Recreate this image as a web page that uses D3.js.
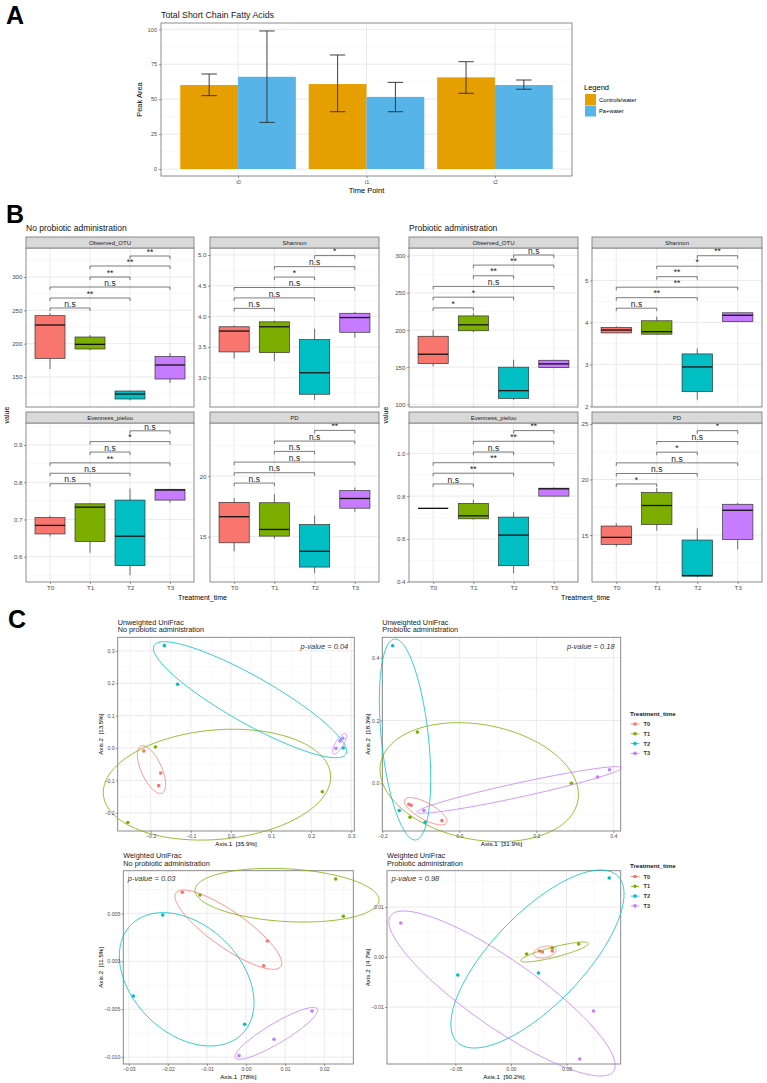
<!DOCTYPE html>
<html><head><meta charset="utf-8">
<script src="https://cdn.jsdelivr.net/npm/d3@7"></script>
<style>
html,body{margin:0;padding:0;background:#fff;}
svg{display:block;}
text{font-family:"Liberation Sans",Arial,Helvetica,sans-serif;}
</style></head>
<body><svg id="fig" width="767" height="1083"></svg>
<script>
// ================= DATA =================
// ---- Panel A: Total Short Chain Fatty Acids ----
const scfaTimes = ["t0","t1","t2"];
const scfaGroups = ["Controls/water","Pa+water"];
const scfaColors = ["#E69F00","#56B4E9"];
const scfaControls = [60.1, 60.8, 65.6];
const scfaPa = [66.0, 51.6, 60.1];
const scfaControlsLow = [52.5, 41.0, 54.2];
const scfaControlsHigh = [68.0, 81.6, 76.8];
const scfaPaLow = [33.4, 41.0, 57.1];
const scfaPaHigh = [98.8, 62.0, 63.7];
const scfaTicks = [0, 25, 50, 75, 100];

// ---- Panel B: alpha diversity boxplots [lower whisker, q1, median, q3, upper whisker] ----
const treatments = ["T0","T1","T2","T3"];
const treatColors = ["#F8766D","#7CAE00","#00BFC4","#C77CFF"];
const sigPairs = [[0,1],[0,2],[0,3],[1,2],[1,3],[2,3]];

const noProbOTU = [[162,178,228,242,246],[190,192,199,210,213],[115,117,124.5,129,130],[141,147,168,181,186]];
const noProbOTUSig = ["n.s","**","n.s","**","**","**"];
const noProbOTUSigY = [253.5,268.5,285,300,316.5,331.5];
const noProbOTUTicks = [150,200,250,300];

const noProbShannon = [[3.31,3.42,3.76,3.83,3.85],[3.27,3.41,3.83,3.91,3.93],[2.64,2.73,3.08,3.62,3.80],[3.65,3.74,3.98,4.05,4.07]];
const noProbShannonSig = ["n.s","n.s","n.s","*","n.s","*"];
const noProbShannonSigY = [4.13,4.30,4.47,4.64,4.81,4.99];
const noProbShannonTicks = [3.0,3.5,4.0,4.5,5.0];

const noProbEvenness = [[0.654,0.661,0.684,0.705,0.710],[0.611,0.641,0.733,0.742,0.744],[0.550,0.576,0.655,0.752,0.783],[0.745,0.752,0.779,0.781,0.782]];
const noProbEvennessSig = ["n.s","n.s","**","n.s","*","n.s"];
const noProbEvennessSigY = [0.796,0.824,0.852,0.881,0.909,0.938];
const noProbEvennessTicks = [0.6,0.7,0.8,0.9];

const noProbPD = [[13.8,14.5,16.65,17.83,18.2],[14.85,15.05,15.6,17.8,18.5],[12.0,12.5,13.8,16.0,16.75],[17.06,17.35,18.15,18.8,19.05]];
const noProbPDSig = ["n.s","n.s","n.s","n.s","n.s","**"];
const noProbPDSigY = [19.42,20.27,21.15,22.03,22.88,23.76];
const noProbPDTicks = [15,20];

const probOTU = [[151,154.9,167.4,191.6,200],[197,199,207,219,222.6],[105.8,108,118.4,150,160],[148.5,149.4,154.4,159.3,160]];
const probOTUSig = ["*","*","n.s","**","**","n.s"];
const probOTUSigY = [229.8,244.2,258.7,273,287.4,301];
const probOTUTicks = [100,150,200,250,300];

const probShannon = [[3.75,3.75,3.82,3.88,3.91],[3.71,3.72,3.78,4.04,4.14],[2.16,2.35,2.94,3.25,3.38],[4.01,4.02,4.17,4.23,4.24]];
const probShannonSig = ["n.s","**","**","**","*","**"];
const probShannonSigY = [4.34,4.59,4.84,5.09,5.34,5.59];
const probShannonTicks = [2,3,4,5];

const probEvenness = [[0.743,0.743,0.743,0.743,0.743],[0.690,0.694,0.708,0.766,0.783],[0.44,0.475,0.618,0.702,0.725],[0.800,0.800,0.834,0.837,0.840]];
const probEvennessSig = ["n.s","**","**","n.s","**","**"];
const probEvennessSigY = [0.857,0.907,0.956,1.006,1.056,1.106];
const probEvennessTicks = [0.4,0.6,0.8,1.0];

const probPD = [[13.95,14.16,14.79,15.81,16.05],[15.4,15.95,17.66,18.83,19.24],[11.2,11.3,11.35,14.55,15.6],[13.7,14.6,17.23,17.77,17.9]];
const probPDSig = ["*","n.s","n.s","*","n.s","*"];
const probPDSigY = [19.6,20.54,21.5,22.46,23.42,24.4];
const probPDTicks = [15,20,25];

// ---- Panel C: PCoA ordinations ----
const uwNoProbPoints = [
  {t:"T0",x:-0.217,y:-0.009},{t:"T0",x:-0.175,y:-0.077},{t:"T0",x:-0.180,y:-0.116},
  {t:"T1",x:-0.188,y:0.003},{t:"T1",x:0.228,y:-0.135},{t:"T1",x:-0.257,y:-0.230},
  {t:"T2",x:-0.166,y:0.316},{t:"T2",x:-0.133,y:0.197},{t:"T2",x:0.280,y:0.000},
  {t:"T3",x:0.262,y:-0.001},{t:"T3",x:0.272,y:0.022},{t:"T3",x:0.279,y:0.030}];
const uwNoProbEllipses = [
  {t:"T0",cx:-0.198,cy:-0.0664,hx:0.0353,hy:0.0736,rho:-0.62},
  {t:"T1",cx:-0.0347,cy:-0.113,hx:0.2835,hy:0.171,rho:0.14},
  {t:"T2",cx:0.0476,cy:0.149,hx:0.241,hy:0.179,rho:-0.888},
  {t:"T3",cx:0.271,cy:0.0133,hx:0.0175,hy:0.0319,rho:0.76}];
const uwNoProbXTicks = [-0.2,-0.1,0.0,0.1,0.2,0.3];
const uwNoProbYTicks = [-0.2,-0.1,0.0,0.1,0.2,0.3];

const uwProbPoints = [
  {t:"T0",x:-0.131,y:-0.067},{t:"T0",x:-0.125,y:-0.070},{t:"T0",x:-0.045,y:-0.119},
  {t:"T1",x:-0.109,y:0.163},{t:"T1",x:0.291,y:0.0},{t:"T1",x:-0.128,y:-0.108},
  {t:"T2",x:-0.173,y:0.438},{t:"T2",x:-0.156,y:-0.087},{t:"T2",x:-0.089,y:-0.124},
  {t:"T3",x:-0.092,y:-0.087},{t:"T3",x:0.359,y:0.020},{t:"T3",x:0.390,y:0.043}];
const uwProbEllipses = [
  {t:"T0",cx:-0.0873,cy:-0.089,hx:0.0554,hy:0.0435,rho:-0.73},
  {t:"T1",cx:0.0516,cy:0.0035,hx:0.2576,hy:0.1895,rho:-0.21},
  {t:"T2",cx:-0.141,cy:0.1395,hx:0.0667,hy:0.32,rho:-0.39},
  {t:"T3",cx:0.1555,cy:-0.0213,hx:0.266,hy:0.0743,rho:0.95}];
const uwProbXTicks = [-0.2,0.0,0.2,0.4];
const uwProbYTicks = [0.0,0.2,0.4];

const wNoProbPoints = [
  {t:"T0",x:-0.01628,y:0.0072},{t:"T0",x:0.00546,y:0.00212},{t:"T0",x:0.00452,y:-0.00046},
  {t:"T1",x:0.02294,y:0.00859},{t:"T1",x:0.02489,y:0.0047},{t:"T1",x:-0.01176,y:0.00692},
  {t:"T2",x:-0.0213,y:0.00483},{t:"T2",x:-0.02882,y:-0.00362},{t:"T2",x:-0.00034,y:-0.00658},
  {t:"T3",x:0.01688,y:-0.00519},{t:"T3",x:0.00716,y:-0.00814},{t:"T3",x:-0.00179,y:-0.00985}];
const wNoProbEllipses = [
  {t:"T0",cx:-0.00452,cy:0.0033,hx:0.01364,hy:0.00414,rho:-0.84},
  {t:"T1",cx:0.01049,cy:0.0069,hx:0.02353,hy:0.0028,rho:-0.18},
  {t:"T2",cx:-0.01517,cy:-0.00188,hx:0.01722,hy:0.00696,rho:-0.35},
  {t:"T3",cx:0.00775,cy:-0.00752,hx:0.01057,hy:0.00271,rho:0.895}];
const wNoProbXTicks = [-0.03,-0.02,-0.01,0.00,0.01,0.02];
const wNoProbYTicks = [-0.010,-0.005,0.000,0.005];

const wProbPoints = [
  {t:"T0",x:0.0257,y:0.0012},{t:"T0",x:0.0283,y:0.0010},{t:"T0",x:0.0372,y:0.0012},
  {t:"T1",x:0.0142,y:0.0006},{t:"T1",x:0.0372,y:0.0018},{t:"T1",x:0.0610,y:0.0026},
  {t:"T2",x:0.0885,y:0.0158},{t:"T2",x:-0.0478,y:-0.0036},{t:"T2",x:0.0248,y:-0.0032},
  {t:"T3",x:-0.0991,y:0.0068},{t:"T3",x:0.0743,y:-0.0108},{t:"T3",x:0.0620,y:-0.0204}];
const wProbEllipses = [
  {t:"T0",cx:0.0305,cy:0.0010,hx:0.0102,hy:0.0012,rho:0.3},
  {t:"T1",cx:0.0394,cy:0.0010,hx:0.0305,hy:0.0020,rho:0.85},
  {t:"T2",cx:0.0239,cy:-0.0004,hx:0.0779,hy:0.0178,rho:0.73},
  {t:"T3",cx:-0.0080,cy:-0.0073,hx:0.1018,hy:0.0165,rho:-0.87}];
const wProbXTicks = [-0.05,0.00,0.05];
const wProbYTicks = [-0.01,0.00,0.01];

// ================= DRAWING =================
const FONT = '"Liberation Sans",Arial,Helvetica,sans-serif';
const TXT = "#4d4d4d", GRID = "#e8e8e8", GRIDMIN = "#f4f4f4", BORDER = "#7f7f7f", TICK = "#555";
const svg = d3.select("#fig");

function text(parent, x, y, s, o = {}) {
  const t = parent.append("text").attr("x", x).attr("y", y).text(s)
    .attr("font-size", o.size || 7).attr("fill", o.fill || "#000")
    .attr("text-anchor", o.anchor || "start");
  if (o.weight) t.attr("font-weight", o.weight);
  if (o.italic) t.attr("font-style", "italic");
  if (o.rotate) t.attr("transform", `rotate(-90,${x},${y})`);
  if (o.pre) t.style("white-space", "pre");
  return t;
}
function minorsOf(ticks, dom) {
  const st = ticks[1] - ticks[0], lo = Math.min(dom[0], dom[1]), hi = Math.max(dom[0], dom[1]);
  let v = ticks[0] - st / 2; while (v - st >= lo) v -= st;
  const out = []; for (; v <= hi; v += st) if (v >= lo) out.push(v);
  return out;
}
function styleAxis(sel, fs) {
  sel.attr("font-family", FONT);
  sel.select(".domain").remove();
  sel.selectAll(".tick line").attr("stroke", TICK).attr("stroke-width", 0.6);
  sel.selectAll(".tick text").attr("fill", TXT).attr("font-size", fs);
}

// ---------- Panel labels ----------
text(svg, 6, 24, "A", {size: 25, weight: "bold"});
text(svg, 6, 223, "B", {size: 25, weight: "bold"});
text(svg, 8, 628, "C", {size: 25, weight: "bold"});

// ---------- Panel A ----------
(function () {
  const x0 = 161, x1 = 572, y0 = 23, y1 = 176;
  const g = svg.append("g");
  const xs = d3.scalePoint().domain(scfaTimes).range([x0, x1]).padding(0.6);
  const ys = d3.scaleLinear().domain([-5, 104.5]).range([y1, y0]);
  g.append("rect").attr("x", x0).attr("y", y0).attr("width", x1 - x0).attr("height", y1 - y0).attr("fill", "#fff");
  minorsOf(scfaTicks, ys.domain()).forEach(v => g.append("line").attr("x1", x0).attr("x2", x1).attr("y1", ys(v)).attr("y2", ys(v)).attr("stroke", GRIDMIN).attr("stroke-width", 0.6));
  scfaTicks.forEach(v => g.append("line").attr("x1", x0).attr("x2", x1).attr("y1", ys(v)).attr("y2", ys(v)).attr("stroke", GRID).attr("stroke-width", 0.9));
  scfaTimes.forEach(t => g.append("line").attr("x1", xs(t)).attr("x2", xs(t)).attr("y1", y0).attr("y2", y1).attr("stroke", GRID).attr("stroke-width", 0.9));
  const bw = xs.step() * 0.45;
  const series = [[scfaControls, scfaControlsLow, scfaControlsHigh], [scfaPa, scfaPaLow, scfaPaHigh]];
  series.forEach((s, k) => {
    scfaTimes.forEach((t, i) => {
      const bx = xs(t) - bw + k * bw;
      g.append("rect").attr("x", bx).attr("y", ys(s[0][i])).attr("width", bw).attr("height", ys(0) - ys(s[0][i])).attr("fill", scfaColors[k]);
    });
  });
  series.forEach((s, k) => {
    scfaTimes.forEach((t, i) => {
      const cx = xs(t) - bw / 2 + k * bw, cw = xs.step() * 0.06;
      const p = d3.path();
      p.moveTo(cx - cw, ys(s[2][i])); p.lineTo(cx + cw, ys(s[2][i]));
      p.moveTo(cx, ys(s[2][i])); p.lineTo(cx, ys(s[1][i]));
      p.moveTo(cx - cw, ys(s[1][i])); p.lineTo(cx + cw, ys(s[1][i]));
      g.append("path").attr("d", p.toString()).attr("stroke", "#2b2b2b").attr("stroke-width", 0.9).attr("fill", "none");
    });
  });
  g.append("rect").attr("x", x0).attr("y", y0).attr("width", x1 - x0).attr("height", y1 - y0).attr("fill", "none").attr("stroke", BORDER).attr("stroke-width", 0.9);
  styleAxis(g.append("g").attr("transform", `translate(${x0},0)`).call(d3.axisLeft(ys).tickValues(scfaTicks).tickSize(2).tickPadding(2)), 5.5);
  styleAxis(g.append("g").attr("transform", `translate(0,${y1})`).call(d3.axisBottom(xs).tickSize(2).tickPadding(2)), 5.5);
  text(g, x0, 18, "Total Short Chain Fatty Acids", {size: 8.8, fill: "#222"});
  text(g, (x0 + x1) / 2, 193, "Time Point", {size: 7.5, anchor: "middle"});
  text(g, 142, (y0 + y1) / 2, "Peak Area", {size: 7.5, anchor: "middle", rotate: true});
  text(g, 584, 90, "Legend", {size: 7.5});
  scfaGroups.forEach((n, k) => {
    g.append("rect").attr("x", 585).attr("y", 94 + k * 11.5).attr("width", 11).attr("height", 11).attr("fill", scfaColors[k]);
    text(g, 599, 94 + k * 11.5 + 7.5, n, {size: 5.8});
  });
})();

// ---------- Panel B ----------
const ROWS = [{s0: 237, y0: 248, y1: 407}, {s0: 412, y0: 423, y1: 582}];
function boxFacet(o) {
  const r = ROWS[o.row];
  const g = svg.append("g");
  const xs = d3.scalePoint().domain(treatments).range([o.x0, o.x1]).padding(0.6);
  const ys = d3.scaleLinear().domain(o.dom).range([r.y1, r.y0]);
  g.append("rect").attr("x", o.x0).attr("y", r.y0).attr("width", o.x1 - o.x0).attr("height", r.y1 - r.y0).attr("fill", "#fff");
  minorsOf(o.ticks, o.dom).forEach(v => g.append("line").attr("x1", o.x0).attr("x2", o.x1).attr("y1", ys(v)).attr("y2", ys(v)).attr("stroke", GRIDMIN).attr("stroke-width", 0.6));
  o.ticks.forEach(v => g.append("line").attr("x1", o.x0).attr("x2", o.x1).attr("y1", ys(v)).attr("y2", ys(v)).attr("stroke", GRID).attr("stroke-width", 0.9));
  treatments.forEach(t => g.append("line").attr("x1", xs(t)).attr("x2", xs(t)).attr("y1", r.y0).attr("y2", r.y1).attr("stroke", GRID).attr("stroke-width", 0.9));
  const bw = xs.step() * 0.75;
  o.stats.forEach((s, i) => {
    const cx = xs(treatments[i]);
    g.append("line").attr("x1", cx).attr("x2", cx).attr("y1", ys(s[0])).attr("y2", ys(s[1])).attr("stroke", "#333").attr("stroke-width", 0.7);
    g.append("line").attr("x1", cx).attr("x2", cx).attr("y1", ys(s[3])).attr("y2", ys(s[4])).attr("stroke", "#333").attr("stroke-width", 0.7);
    g.append("rect").attr("x", cx - bw / 2).attr("y", ys(s[3])).attr("width", bw).attr("height", Math.max(0, ys(s[1]) - ys(s[3])))
      .attr("fill", treatColors[i]).attr("stroke", "#333").attr("stroke-width", 0.7);
    g.append("line").attr("x1", cx - bw / 2).attr("x2", cx + bw / 2).attr("y1", ys(s[2])).attr("y2", ys(s[2])).attr("stroke", "#111").attr("stroke-width", 1.3);
  });
  sigPairs.forEach((pr, i) => {
    const xa = xs(treatments[pr[0]]), xb = xs(treatments[pr[1]]), y = ys(o.sigY[i]);
    g.append("path").attr("d", `M${xa},${y + 3}V${y}H${xb}V${y + 3}`).attr("fill", "none").attr("stroke", "#444").attr("stroke-width", 0.7);
    text(g, (xa + xb) / 2, y - 1.3, o.sigLab[i], {size: 8.5, anchor: "middle", fill: "#222"});
  });
  g.append("rect").attr("x", o.x0).attr("y", r.y0).attr("width", o.x1 - o.x0).attr("height", r.y1 - r.y0).attr("fill", "none").attr("stroke", BORDER).attr("stroke-width", 0.9);
  g.append("rect").attr("x", o.x0).attr("y", r.s0).attr("width", o.x1 - o.x0).attr("height", r.y0 - r.s0).attr("fill", "#d9d9d9").attr("stroke", BORDER).attr("stroke-width", 0.9);
  text(g, (o.x0 + o.x1) / 2, (r.s0 + r.y0) / 2 + 2.1, o.label, {size: 6, anchor: "middle", fill: "#1a1a1a"});
  styleAxis(g.append("g").attr("transform", `translate(${o.x0},0)`).call(d3.axisLeft(ys).tickValues(o.ticks).tickFormat(o.fmt).tickSize(2).tickPadding(1.5)), 6.2);
  if (o.row === 1) styleAxis(g.append("g").attr("transform", `translate(0,${r.y1})`).call(d3.axisBottom(xs).tickSize(2).tickPadding(1.5)), 6.2);
}
const f0 = d3.format("d"), f1 = d3.format(".1f");
boxFacet({x0: 26, x1: 194, row: 0, label: "Observed_OTU", dom: [105, 343.5], ticks: noProbOTUTicks, fmt: f0, stats: noProbOTU, sigY: noProbOTUSigY, sigLab: noProbOTUSig});
boxFacet({x0: 210, x1: 379, row: 0, label: "Shannon", dom: [2.522, 5.114], ticks: noProbShannonTicks, fmt: f1, stats: noProbShannon, sigY: noProbShannonSigY, sigLab: noProbShannonSig});
boxFacet({x0: 26, x1: 194, row: 1, label: "Evenness_pielou", dom: [0.532, 0.959], ticks: noProbEvennessTicks, fmt: f1, stats: noProbEvenness, sigY: noProbEvennessSigY, sigLab: noProbEvennessSig});
boxFacet({x0: 210, x1: 379, row: 1, label: "PD", dom: [11.27, 24.37], ticks: noProbPDTicks, fmt: f0, stats: noProbPD, sigY: noProbPDSigY, sigLab: noProbPDSig});
boxFacet({x0: 409, x1: 578, row: 0, label: "Observed_OTU", dom: [96.4, 310.4], ticks: probOTUTicks, fmt: f0, stats: probOTU, sigY: probOTUSigY, sigLab: probOTUSig});
boxFacet({x0: 592, x1: 762, row: 0, label: "Shannon", dom: [1.985, 5.774], ticks: probShannonTicks, fmt: f0, stats: probShannon, sigY: probShannonSigY, sigLab: probShannonSig});
boxFacet({x0: 409, x1: 578, row: 1, label: "Evenness_pielou", dom: [0.399, 1.1414], ticks: probEvennessTicks, fmt: f1, stats: probEvenness, sigY: probEvennessSigY, sigLab: probEvennessSig});
boxFacet({x0: 592, x1: 762, row: 1, label: "PD", dom: [10.77, 25.09], ticks: probPDTicks, fmt: f0, stats: probPD, sigY: probPDSigY, sigLab: probPDSig});
text(svg, 26, 231, "No probiotic administration", {size: 8.5, fill: "#111"});
text(svg, 409, 231, "Probiotic administration", {size: 8.5, fill: "#111"});
text(svg, 202.5, 599.5, "Treatment_time", {size: 7, anchor: "middle"});
text(svg, 585.5, 599.5, "Treatment_time", {size: 7, anchor: "middle"});
text(svg, 8.5, 415, "value", {size: 7, anchor: "middle", rotate: true});
text(svg, 388, 415, "value", {size: 7, anchor: "middle", rotate: true});

// ---------- Panel C ----------
function ordPlot(o) {
  const g = svg.append("g");
  const xs = d3.scaleLinear().domain(o.xDom).range([o.x0, o.x1]);
  const ys = d3.scaleLinear().domain(o.yDom).range([o.y1, o.y0]);
  g.append("rect").attr("x", o.x0).attr("y", o.y0).attr("width", o.x1 - o.x0).attr("height", o.y1 - o.y0).attr("fill", "#fff");
  minorsOf(o.yTicks, o.yDom).forEach(v => g.append("line").attr("x1", o.x0).attr("x2", o.x1).attr("y1", ys(v)).attr("y2", ys(v)).attr("stroke", GRIDMIN).attr("stroke-width", 0.6));
  minorsOf(o.xTicks, o.xDom).forEach(v => g.append("line").attr("x1", xs(v)).attr("x2", xs(v)).attr("y1", o.y0).attr("y2", o.y1).attr("stroke", GRIDMIN).attr("stroke-width", 0.6));
  o.yTicks.forEach(v => g.append("line").attr("x1", o.x0).attr("x2", o.x1).attr("y1", ys(v)).attr("y2", ys(v)).attr("stroke", GRID).attr("stroke-width", 0.9));
  o.xTicks.forEach(v => g.append("line").attr("x1", xs(v)).attr("x2", xs(v)).attr("y1", o.y0).attr("y2", o.y1).attr("stroke", GRID).attr("stroke-width", 0.9));
  g.append("rect").attr("x", o.x0).attr("y", o.y0).attr("width", o.x1 - o.x0).attr("height", o.y1 - o.y0).attr("fill", "none").attr("stroke", BORDER).attr("stroke-width", 0.9);
  const col = t => treatColors[treatments.indexOf(t)];
  o.points.forEach(p => g.append("circle").attr("cx", xs(p.x)).attr("cy", ys(p.y)).attr("r", 1.8).attr("fill", col(p.t)));
  const line = d3.line().x(d => xs(d[0])).y(d => ys(d[1])).curve(d3.curveLinearClosed);
  o.ellipses.forEach(e => {
    const pts = d3.range(0, 2 * Math.PI, Math.PI / 90).map(a => [
      e.cx + e.hx * Math.cos(a),
      e.cy + e.hy * (e.rho * Math.cos(a) + Math.sqrt(1 - e.rho * e.rho) * Math.sin(a))]);
    g.append("path").attr("d", line(pts)).attr("fill", "none").attr("stroke", col(e.t)).attr("stroke-width", 0.8);
  });
  styleAxis(g.append("g").attr("transform", `translate(${o.x0},0)`).call(d3.axisLeft(ys).tickValues(o.yTicks).tickFormat(o.yFmt).tickSize(2).tickPadding(1)), 5.2);
  styleAxis(g.append("g").attr("transform", `translate(0,${o.y1})`).call(d3.axisBottom(xs).tickValues(o.xTicks).tickFormat(o.xFmt).tickSize(2).tickPadding(1)), 5.2);
  text(g, o.x0, o.y0 - 12.5, o.title1, {size: 7.3, fill: "#222"});
  text(g, o.x0, o.y0 - 5, o.title2, {size: 7.3, fill: "#222"});
  if (o.pRight) text(g, o.x1 - 6, o.y0 + 12, o.pText, {size: 7.5, italic: true, anchor: "end", fill: "#333"});
  else text(g, o.x0 + 4.5, o.y0 + 10.5, o.pText, {size: 7.5, italic: true, fill: "#333"});
  text(g, (o.x0 + o.x1) / 2, o.y1 + 14.5, o.xTitle, {size: 6.2, anchor: "middle", pre: true});
  text(g, o.axis2X, (o.y0 + o.y1) / 2, o.yTitle, {size: 6.2, anchor: "middle", rotate: true, pre: true});
}
function ordLegend(x, yTitle) {
  const g = svg.append("g");
  text(g, x, yTitle, "Treatment_time", {size: 6.2, weight: "bold", fill: "#222"});
  treatments.forEach((t, i) => {
    const cy = yTitle + 8.5 + i * 9.8;
    g.append("line").attr("x1", x + 0.7).attr("x2", x + 9.3).attr("y1", cy).attr("y2", cy).attr("stroke", treatColors[i]).attr("stroke-width", 0.8);
    g.append("circle").attr("cx", x + 5).attr("cy", cy).attr("r", 1.8).attr("fill", treatColors[i]);
    text(g, x + 13.5, cy + 2, t, {size: 5.6, weight: "bold", fill: "#333"});
  });
}
const fx1 = d3.format(".1f"), fx2 = d3.format(".2f"), fx3 = d3.format(".3f");
ordPlot({x0: 117.7, x1: 354.3, y0: 637.3, y1: 831, xDom: [-0.2823, 0.3077], yDom: [-0.256, 0.3417],
  xTicks: uwNoProbXTicks, yTicks: uwNoProbYTicks, xFmt: fx1, yFmt: fx1, points: uwNoProbPoints, ellipses: uwNoProbEllipses,
  title1: "Unweighted UniFrac", title2: "No probiotic administration", pText: "p-value = 0.04", pRight: true,
  xTitle: "Axis.1  [35.9%]", yTitle: "Axis.2  [13.5%]", axis2X: 103.5});
ordPlot({x0: 382.3, x1: 620.7, y0: 637.3, y1: 831, xDom: [-0.2, 0.419], yDom: [-0.152, 0.465],
  xTicks: uwProbXTicks, yTicks: uwProbYTicks, xFmt: fx1, yFmt: fx1, points: uwProbPoints, ellipses: uwProbEllipses,
  title1: "Unweighted UniFrac", title2: "Probiotic administration", pText: "p-value = 0.18", pRight: true,
  xTitle: "Axis.1  [31.9%]", yTitle: "Axis.2  [18.3%]", axis2X: 370});
ordPlot({x0: 123.3, x1: 353.3, y0: 870.7, y1: 1064, xDom: [-0.03138, 0.02744], yDom: [-0.01072, 0.009457],
  xTicks: wNoProbXTicks, yTicks: wNoProbYTicks, xFmt: fx2, yFmt: fx3, points: wNoProbPoints, ellipses: wNoProbEllipses,
  title1: "Weighted UniFrac", title2: "No probiotic administration", pText: "p-value = 0.03", pRight: false,
  xTitle: "Axis.1  [78%]", yTitle: "Axis.2  [11.5%]", axis2X: 103.5});
ordPlot({x0: 387, x1: 620.7, y0: 870.7, y1: 1064, xDom: [-0.1115, 0.0988], yDom: [-0.0214, 0.01726],
  xTicks: wProbXTicks, yTicks: wProbYTicks, xFmt: fx2, yFmt: fx2, points: wProbPoints, ellipses: wProbEllipses,
  title1: "Weighted UniFrac", title2: "Probiotic administration", pText: "p-value = 0.98", pRight: false,
  xTitle: "Axis.1  [90.2%]", yTitle: "Axis.2  [4.7%]", axis2X: 370});
ordLegend(630, 715.5);
ordLegend(630, 868);
</script></body></html>
